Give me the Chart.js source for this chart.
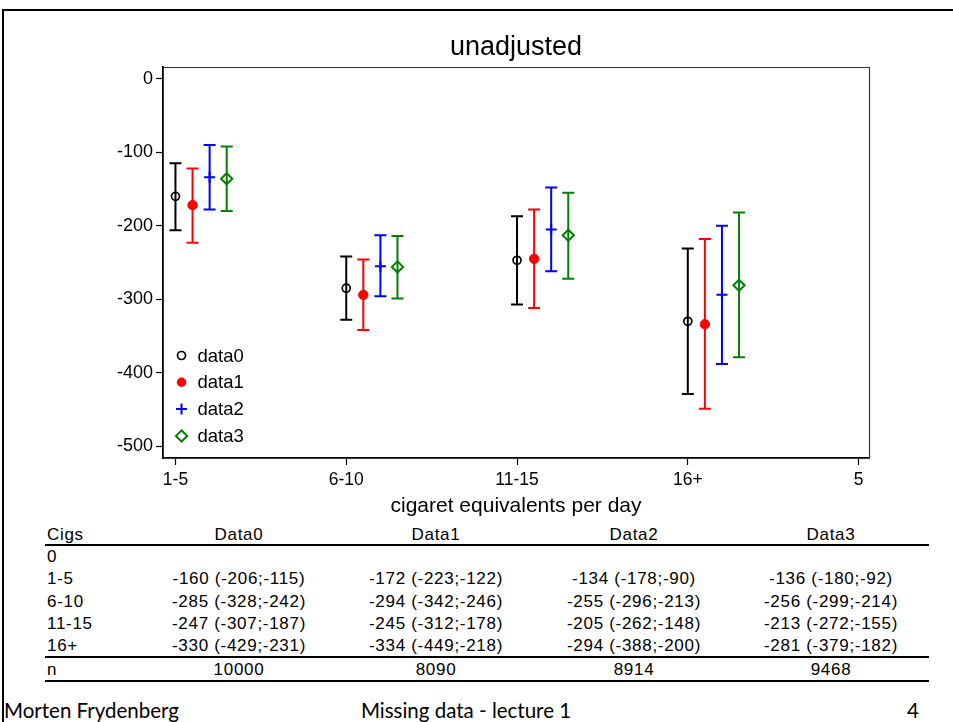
<!DOCTYPE html>
<html>
<head>
<meta charset="utf-8">
<script src="https://cdn.jsdelivr.net/npm/chart.js@4/dist/chart.umd.min.js"></script>
<style>
  html, body { margin: 0; padding: 0; }
  body { width: 953px; height: 722px; background: #fff; position: relative; overflow: hidden;
         font-family: "Liberation Sans", Arial, sans-serif; color: #000; }
  #frame { position: absolute; left: 2px; top: 9px; width: 1000px; height: 800px;
           border-left: 2px solid #000; border-top: 2px solid #000; }
  #wrap { position: absolute; left: 0; top: 0; width: 953px; height: 522px; }
  .t { position: absolute; font-size: 17px; white-space: nowrap; line-height: 1; transform: translateY(-50%); letter-spacing: 0.7px; }
  .c { transform: translate(-50%, -50%); }
  .rule { position: absolute; left: 45px; width: 884px; height: 2px; background: #000; }
  .foot { position: absolute; font-size: 20.5px; white-space: nowrap; line-height: 1; transform: translateY(-50%);
          font-family: "Lato", "Liberation Sans", sans-serif; }
</style>
</head>
<body>
<div id="frame"></div>
<div id="wrap"><canvas id="chart" width="953" height="522"></canvas></div>
<div id="table"></div>
<div class="foot" style="left:4px; top:710px;">Morten Frydenberg</div>
<div class="foot" style="left:466px; top:710px; transform:translate(-50%,-50%);">Missing data - lecture 1</div>
<div class="foot" style="left:907px; top:710px;">4</div>
<script>
// ---- data ----
const categories = ["1-5", "6-10", "11-15", "16+"];
const xTickLabels = ["1-5", "6-10", "11-15", "16+", "5"];
const xTickValues = [1, 2, 3, 4, 5];
const yTickValues = [0, -100, -200, -300, -400, -500];
const seriesNames = ["data0", "data1", "data2", "data3"];
const tableHeaders = ["Cigs", "Data0", "Data1", "Data2", "Data3"];
const tableRowLabels = ["0", "1-5", "6-10", "11-15", "16+"];

const est0 = [-160, -285, -247, -330];
const lo0  = [-206, -328, -307, -429];
const hi0  = [-115, -242, -187, -231];
const est1 = [-172, -294, -245, -334];
const lo1  = [-223, -342, -312, -449];
const hi1  = [-122, -246, -178, -218];
const est2 = [-134, -255, -205, -294];
const lo2  = [-178, -296, -262, -388];
const hi2  = [-90, -213, -148, -200];
const est3 = [-136, -256, -213, -281];
const lo3  = [-180, -299, -272, -379];
const hi3  = [-92, -214, -155, -182];
const nObs = [10000, 8090, 8914, 9468];

// ---- styles ----
const colors = ["#000000", "#ff0000", "#0000ff", "#008000"];
const FONT = '"Liberation Sans", Arial, sans-serif';
const ests = [est0, est1, est2, est3];
const los = [lo0, lo1, lo2, lo3];
const his = [hi0, hi1, hi2, hi3];
const dodge = 0.1;

const markerStyle = [
  { pointStyle: 'circle', radius: 4, fill: false, lw: 1.7 },
  { pointStyle: 'circle', radius: 4.7, fill: true, lw: 1 },
  { pointStyle: 'cross', radius: 5.5, fill: false, lw: 2 },
  { pointStyle: 'rectRot', radius: 5.6, fill: false, lw: 2 }
];

const datasets = seriesNames.map((name, s) => ({
  label: name,
  data: categories.map((c, i) => ({ x: i + 1 + s * dodge, y: ests[s][i], lo: los[s][i], hi: his[s][i] })),
  pointStyle: markerStyle[s].pointStyle,
  pointRadius: markerStyle[s].radius,
  pointHoverRadius: markerStyle[s].radius,
  pointBorderWidth: markerStyle[s].lw,
  pointBorderColor: colors[s],
  pointBackgroundColor: markerStyle[s].fill ? colors[s] : 'rgba(0,0,0,0)',
  showLine: false
}));

function drawMarker(ctx, s, x, y) {
  const m = markerStyle[s];
  ctx.save();
  ctx.strokeStyle = colors[s];
  ctx.fillStyle = colors[s];
  ctx.lineWidth = m.lw;
  ctx.beginPath();
  if (m.pointStyle === 'circle') {
    ctx.arc(x, y, m.radius, 0, Math.PI * 2);
    if (m.fill) ctx.fill(); else ctx.stroke();
  } else if (m.pointStyle === 'cross') {
    ctx.moveTo(x - m.radius, y); ctx.lineTo(x + m.radius, y);
    ctx.moveTo(x, y - m.radius); ctx.lineTo(x, y + m.radius);
    ctx.stroke();
  } else {
    ctx.moveTo(x, y - m.radius); ctx.lineTo(x + m.radius, y);
    ctx.lineTo(x, y + m.radius); ctx.lineTo(x - m.radius, y); ctx.closePath();
    ctx.stroke();
  }
  ctx.restore();
}

const errorBars = {
  id: 'errorBars',
  beforeDatasetsDraw(chart) {
    const ctx = chart.ctx, xs = chart.scales.x, ys = chart.scales.y;
    chart.data.datasets.forEach((ds, s) => {
      ctx.save();
      ctx.strokeStyle = colors[s];
      ctx.lineWidth = 2;
      ds.data.forEach(p => {
        const px = xs.getPixelForValue(p.x);
        const pl = ys.getPixelForValue(p.lo);
        const ph = ys.getPixelForValue(p.hi);
        ctx.beginPath();
        ctx.moveTo(px, pl); ctx.lineTo(px, ph);
        ctx.moveTo(px - 6, pl); ctx.lineTo(px + 6, pl);
        ctx.moveTo(px - 6, ph); ctx.lineTo(px + 6, ph);
        ctx.stroke();
      });
      ctx.restore();
    });
  }
};

const frameAndText = {
  id: 'frameAndText',
  afterDraw(chart) {
    const ctx = chart.ctx, a = chart.chartArea;
    ctx.save();
    // top & right border of the plot region
    ctx.strokeStyle = '#333';
    ctx.lineWidth = 1.2;
    ctx.beginPath();
    ctx.moveTo(a.left, a.top + 0.5); ctx.lineTo(a.right + 0.5, a.top + 0.5); ctx.lineTo(a.right + 0.5, a.bottom);
    ctx.stroke();
    // title
    ctx.fillStyle = '#000';
    ctx.font = '27px ' + FONT;
    ctx.textAlign = 'center';
    ctx.textBaseline = 'middle';
    ctx.fillText('unadjusted', (a.left + a.right) / 2, 48);
    // legend inside plot
    ctx.font = '18.5px ' + FONT;
    ctx.textAlign = 'left';
    const legendX = a.left + 18.5;
    const legendY0 = 355.5, legendStep = 26.8;
    seriesNames.forEach((name, s) => {
      const y = legendY0 + s * legendStep;
      drawMarker(ctx, s, legendX, y);
      ctx.fillStyle = '#000';
      ctx.fillText(name, legendX + 16, y + 1);
    });
    ctx.restore();
  }
};

new Chart(document.getElementById('chart'), {
  type: 'scatter',
  data: { datasets },
  options: {
    responsive: false,
    animation: false,
    events: [],
    layout: { padding: { left: 0, right: 84, top: 67, bottom: 0 } },
    plugins: { legend: { display: false }, title: { display: false }, tooltip: { enabled: false } },
    scales: {
      x: {
        type: 'linear',
        min: 0.927, max: 5.061,
        afterBuildTicks(scale) { scale.ticks = xTickValues.map(v => ({ value: v })); },
        afterFit(scale) { scale.height = 64; },
        ticks: {
          color: '#000', font: { family: FONT, size: 17.5 }, padding: 5, maxRotation: 0, autoSkip: false,
          callback(value) { const i = xTickValues.indexOf(value); return i >= 0 ? xTickLabels[i] : ''; }
        },
        grid: { drawOnChartArea: false, drawTicks: true, tickLength: 7, color: '#000', tickWidth: 1.2 },
        border: { color: '#000', width: 1.8 },
        title: { display: true, text: 'cigaret equivalents per day', color: '#000',
                 font: { family: FONT, size: 21 }, padding: { top: 0, bottom: 3 } }
      },
      y: {
        type: 'linear',
        min: -516, max: 16,
        afterBuildTicks(scale) { scale.ticks = yTickValues.map(v => ({ value: v })); },
        afterFit(scale) { scale.width = 163; },
        ticks: { color: '#000', font: { family: FONT, size: 18 }, padding: 3 },
        grid: { drawOnChartArea: false, drawTicks: true, tickLength: 7, color: '#000', tickWidth: 1.2 },
        border: { color: '#000', width: 1.8 }
      }
    }
  },
  plugins: [errorBars, frameAndText]
});

// ---- table below the chart ----
const table = document.getElementById('table');
const colCenters = [239, 436, 634, 831];
const headerY = 534, rowY0 = 556, rowStep = 22.3, nY = 669;
function addText(txt, x, y, center) {
  const d = document.createElement('div');
  d.className = 't' + (center ? ' c' : '');
  d.style.left = x + 'px';
  d.style.top = y + 'px';
  d.textContent = txt;
  table.appendChild(d);
}
function addRule(y) {
  const d = document.createElement('div');
  d.className = 'rule';
  d.style.top = (y - 1) + 'px';
  table.appendChild(d);
}
addText(tableHeaders[0], 47, headerY, false);
tableHeaders.slice(1).forEach((h, j) => addText(h, colCenters[j], headerY, true));
addRule(545);
tableRowLabels.forEach((lab, r) => {
  const y = rowY0 + r * rowStep;
  addText(lab, 47, y, false);
  if (r > 0) {
    const i = r - 1;
    ests.forEach((e, s) => {
      addText(e[i] + ' (' + los[s][i] + ';' + his[s][i] + ')', colCenters[s], y, true);
    });
  }
});
addRule(657);
addText('n', 47, nY, false);
nObs.forEach((n, s) => addText(String(n), colCenters[s], nY, true));
addRule(681);
</script>
</body>
</html>
